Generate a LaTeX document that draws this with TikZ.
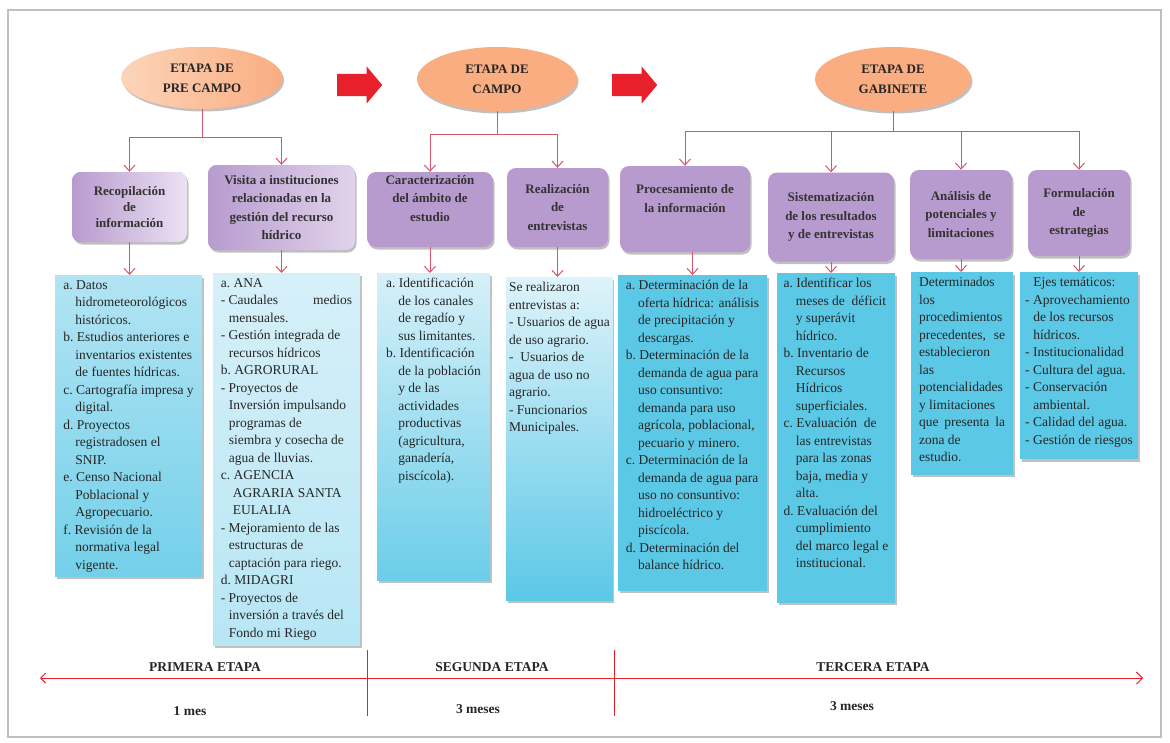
\documentclass[tikz,border=0pt]{standalone}
\usepackage{fontspec}
\setmainfont{Liberation Serif}
\usetikzlibrary{shapes.geometric,shapes.arrows,arrows.meta,shadows}
\definecolor{peach}{RGB}{249,173,128}
\definecolor{peachlt}{RGB}{252,212,186}
\definecolor{lila}{RGB}{183,155,206}
\definecolor{lilalt}{RGB}{236,225,243}
\definecolor{celeste}{RGB}{91,200,230}
\definecolor{celestelt}{RGB}{214,240,249}
\definecolor{conector}{RGB}{217,84,106}
\definecolor{rojo}{RGB}{232,32,44}
\newcommand{\indt}[1][0.9em]{\hspace*{#1}}

\begin{document}
\begin{tikzpicture}[x=1pt,y=-1pt,
  sombra/.style={drop shadow={shadow xshift=1.5pt,shadow yshift=-2.5pt,opacity=.35,fill=black!70}},
  etapa/.style={ellipse, fill=peach, inner sep=0pt, align=center, text=black!85,
    font=\bfseries\fontsize{13}{20}\selectfont, sombra},
  titulo/.style={rectangle, rounded corners=9pt, fill=lila, align=center, inner sep=2pt,
    text=black!80, font=\bfseries\fontsize{13}{18.5}\selectfont, sombra},
  detalle/.style={rectangle, fill=celeste, anchor=north, align=left, inner xsep=3pt,
    inner ysep=5pt, text=black!85, font=\fontsize{13.5}{17.5}\selectfont, sombra},
  conn/.style={draw=conector, line width=1pt},
  flecha/.style={conn, -{Straight Barb[length=6pt,width=11pt]}},
  bloque/.style={single arrow, fill=rojo, minimum height=45pt, inner xsep=0pt, inner ysep=11pt,
    single arrow head extend=7.5pt, single arrow tip angle=100},
  linea/.style={draw=rojo, line width=0.9pt},
  etiqueta/.style={font=\bfseries\fontsize{13.5}{16}\selectfont, text=black!85}]
\useasboundingbox (0,0) rectangle (1170,742);
\fill[white] (0,0) rectangle (1170,742);
\draw[black!25, line width=2pt] (8,10) rectangle (1161,737);

\node[etapa, left color=peachlt, right color=peach, minimum width=161pt, minimum height=62pt] (e1) at (202,78) {ETAPA DE\\PRE CAMPO};
\node[etapa, minimum width=160pt, minimum height=64pt] (e2) at (497,79) {ETAPA DE\\CAMPO};
\node[etapa, minimum width=156pt, minimum height=64pt] (e3) at (893,79) {ETAPA DE\\GABINETE};
\node[bloque] (b1) at (355,85) {};
\node[bloque] (b2) at (630,85) {};

\node[titulo, left color=lila, right color=lilalt, minimum width=115pt, minimum height=70pt, font=\bfseries\fontsize{13}{16}\selectfont] (p1) at (129.5,207) {Recopilación\\de\\información};
\node[titulo, left color=lila, right color=lilalt!80!lila, minimum width=147pt, minimum height=85pt] (p2) at (281.5,207.5) {Visita a instituciones\\relacionadas en la\\gestión del recurso\\hídrico};
\node[titulo, minimum width=126pt, minimum height=75pt, text depth=23pt] (p3) at (430,209.5) {Caracterización\\del ámbito de\\estudio};
\node[titulo, minimum width=101pt, minimum height=79pt] (p4) at (557.5,207.5) {Realización\\de\\entrevistas};
\node[titulo, minimum width=130pt, minimum height=86pt, text depth=21pt] (p5) at (685,209) {Procesamiento de\\la información};
\node[titulo, minimum width=126pt, minimum height=89pt] (p6) at (831,217) {Sistematización\\de los resultados\\y de entrevistas};
\node[titulo, minimum width=102pt, minimum height=89pt] (p7) at (961,214.5) {Análisis de\\potenciales y\\limitaciones};
\node[titulo, minimum width=102pt, minimum height=86pt] (p8) at (1079,213) {Formulación\\de\\estrategias};

\coordinate (j1) at (202,137);
\coordinate (j2) at (497,134);
\coordinate (j3) at (893,131);
\draw[conn] (e1.south) -- (j1);
\draw[flecha] (j1) -| (p1.north);
\draw[flecha] (j1) -| (p2.north);
\draw[conn] (e2.south) -- (j2);
\draw[flecha] (j2) -| (p3.north);
\draw[flecha] (j2) -| (p4.north);
\draw[conn] (e3.south) -- (j3);
\draw[flecha] (j3) -| (p5.north);
\draw[flecha] (j3) -| (p6.north);
\draw[flecha] (j3) -| (p7.north);
\draw[flecha] (j3) -| (p8.north);

\node[detalle, top color=celestelt!70!celeste, bottom color=celeste!85!white, minimum width=147pt] (t1) at (128.5,275) {a.~Datos\\
\indt hidrometeorológicos\\
\indt históricos.\\
b.~Estudios anteriores e\\
\indt inventarios existentes\\
\indt de fuentes hídricas.\\
c.~Cartografía impresa y\\
\indt digital.\\
d.~Proyectos\\
\indt registradosen el\\
\indt SNIP.\\
e.~Censo Nacional\\
\indt Poblacional y\\
\indt Agropecuario.\\
f.~Revisión de la\\
\indt normativa legal\\
\indt vigente.};
\node[detalle, top color=celestelt, bottom color=celestelt!75!celeste, minimum width=147pt] (t2) at (286.5,273) {a.~ANA\\
- Caudales\hspace{2.6em}medios\\
\indt[0.6em]mensuales.\\
- Gestión integrada de\\
\indt[0.6em]recursos hídricos\\
b.~AGRORURAL\\
- Proyectos de\\
\indt[0.6em]Inversión impulsando\\
\indt[0.6em]programas de\\
\indt[0.6em]siembra y cosecha de\\
\indt[0.6em]agua de lluvias.\\
c.~AGENCIA\\
\indt AGRARIA SANTA\\
\indt EULALIA\\
- Mejoramiento de las\\
\indt[0.6em]estructuras de\\
\indt[0.6em]captación para riego.\\
d.~MIDAGRI\\
- Proyectos de\\
\indt[0.6em]inversión a través del\\
\indt[0.6em]Fondo mi Riego};
\node[detalle, top color=celestelt, bottom color=celeste!90!white, minimum width=113pt, text depth=95pt] (t3) at (433.5,273) {a.~Identificación\\
\indt de los canales\\
\indt de regadío y\\
\indt sus limitantes.\\
b.~Identificación\\
\indt de la población\\
\indt y de las\\
\indt actividades\\
\indt productivas\\
\indt (agricultura,\\
\indt ganadería,\\
\indt piscícola).};
\node[detalle, top color=celestelt!80!white, bottom color=celeste, minimum width=105pt, text depth=164pt] (t4) at (559.5,277) {Se realizaron\\
entrevistas a:\\
- Usuarios de agua\\
de uso agrario.\\
-~ Usuarios de\\
agua de uso no\\
agrario.\\
- Funcionarios\\
Municipales.};
\node[detalle, minimum width=149pt, text depth=16pt] (t5) at (692.5,275) {a.~Determinación de la\\
\indt oferta hídrica: análisis\\
\indt de precipitación y\\
\indt descargas.\\
b.~Determinación de la\\
\indt demanda de agua para\\
\indt uso consuntivo:\\
\indt demanda para uso\\
\indt agrícola, poblacional,\\
\indt pecuario y minero.\\
c.~Determinación de la\\
\indt demanda de agua para\\
\indt uso no consuntivo:\\
\indt hidroeléctrico y\\
\indt piscícola.\\
d.~Determinación del\\
\indt balance hídrico.};
\node[detalle, minimum width=118pt, text depth=30pt] (t6) at (836,273) {a.~Identificar los\\
\indt meses de~ déficit\\
\indt y superávit\\
\indt hídrico.\\
b.~Inventario de\\
\indt Recursos\\
\indt Hídricos\\
\indt superficiales.\\
c.~Evaluación~ de\\
\indt las entrevistas\\
\indt para las zonas\\
\indt baja, media y\\
\indt alta.\\
d.~Evaluación del\\
\indt cumplimiento\\
\indt del marco legal e\\
\indt institucional.};
\node[detalle, minimum width=102pt, text depth=8pt] (t7) at (962,272) {Determinados\\
los\\
procedimientos\\
\makebox[86pt][s]{precedentes, se}\\
establecieron\\
las\\
potencialidades\\
y limitaciones\\
\makebox[86pt][s]{que presenta la}\\
zona de\\
estudio.};
\node[detalle, minimum width=118pt, text depth=10pt] (t8) at (1079,272) {\indt[0.6em]Ejes temáticos:\\
- Aprovechamiento\\
\indt[0.6em]de los recursos\\
\indt[0.6em]hídricos.\\
- Institucionalidad\\
- Cultura del agua.\\
- Conservación\\
\indt[0.6em]ambiental.\\
- Calidad del agua.\\
- Gestión de riesgos};

\draw[flecha] (p1.south) -- (p1.south |- t1.north);
\draw[flecha] (p2.south) -- (p2.south |- t2.north);
\draw[flecha] (p3.south) -- (p3.south |- t3.north);
\draw[flecha] (p4.south) -- (p4.south |- t4.north);
\draw[flecha] (p5.south -| t5.north) -- (t5.north);
\draw[flecha] (p6.south) -- (p6.south |- t6.north);
\draw[flecha] (p7.south) -- (p7.south |- t7.north);
\draw[flecha] (p8.south) -- (p8.south |- t8.north);

\coordinate (ta) at (40,678);
\coordinate (tb) at (1143,678);
\coordinate (s1a) at (367,650);
\coordinate (s1b) at (367,716);
\coordinate (s2a) at (614,650);
\coordinate (s2b) at (614,716);
\draw[linea, {Straight Barb[length=5pt,width=10pt]}-{Straight Barb[length=6pt,width=12pt]}] (ta) -- (tb);
\draw[linea, line width=0.6pt] (s1a) -- (s1b);
\draw[linea, line width=0.6pt] (s2a) -- (s2b);
\node[etiqueta] (l1) at (205,667) {PRIMERA ETAPA};
\node[etiqueta] (l2) at (492,667) {SEGUNDA ETAPA};
\node[etiqueta] (l3) at (873,667) {TERCERA ETAPA};
\node[etiqueta] (m1) at (190,711) {1 mes};
\node[etiqueta] (m2) at (478,709) {3 meses};
\node[etiqueta] (m3) at (852,706) {3 meses};
\end{tikzpicture}
\end{document}
